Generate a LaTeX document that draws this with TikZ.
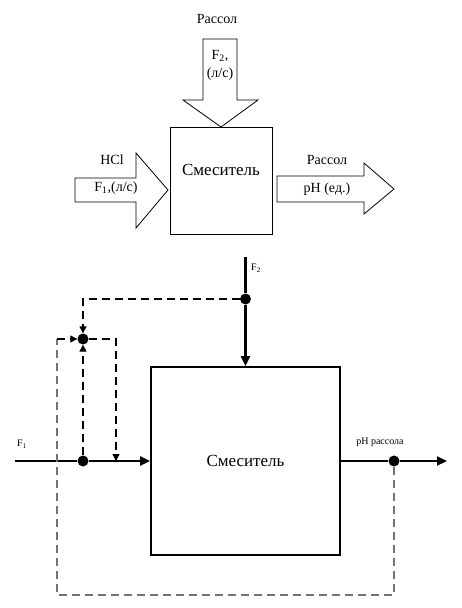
\documentclass[tikz,border=0pt]{standalone}
\usepackage{fontspec}
\setmainfont{Liberation Serif}
\usetikzlibrary{arrows.meta}
\begin{document}
\begin{tikzpicture}[x=1pt,y=-1pt,
  blockarrow/.style={draw=black,line width=0.8pt,fill=white,line join=miter},
  mixbox/.style={draw=black,line width=0.8pt,minimum width=102pt,minimum height=107pt,inner sep=0pt},
  bigbox/.style={draw=black,line width=1.8pt,minimum width=189pt,minimum height=188pt,inner sep=0pt},
  flow/.style={line width=2.2pt,-{Triangle[length=10pt,width=9pt]}},
  flowplain/.style={line width=2.2pt},
  sig/.style={dashed,dash pattern=on 8pt off 5pt,line width=1.3pt},
  sigg/.style={sig,draw=black!55},
  sa/.style={-{Triangle[length=7pt,width=7pt]}},
  dot/.style={circle,fill=black,inner sep=0pt,minimum size=11pt},
  lbl/.style={font=\fontsize{14}{16}\selectfont,inner sep=0pt},
  slbl/.style={font=\fontsize{10}{12}\selectfont,inner sep=0pt}]
\useasboundingbox (0,0) rectangle (461,608);
% ---------- top diagram ----------
\node[mixbox] (mix) at (221,180.5) {};
\node[font=\fontsize{17}{19}\selectfont] (mixt) at (221,170) {Смеситель};
\draw[blockarrow] (203,39) -- (237,39) -- (237,100) -- (258,100) -- (221,127) -- (183,100) -- (203,100) -- cycle;
\draw[blockarrow] (75,178) -- (136,178) -- (136,153) -- (168,190) -- (136,228) -- (136,202) -- (75,202) -- cycle;
\draw[blockarrow] (277,176) -- (364,176) -- (364,163) -- (394,189) -- (364,214) -- (364,202) -- (277,202) -- cycle;
\node[lbl] (t1) at (217,19) {Рассол};
\node[lbl] (t2) at (220,56) {F\textsubscript{2},};
\node[lbl] (t3) at (220,74) {(л/с)};
\node[lbl] (t4) at (112,160) {HCl};
\node[lbl] (t5) at (116,188) {F\textsubscript{1},(л/с)};
\node[lbl] (t6) at (327,160) {Рассол};
\node[lbl] (t7) at (327,189) {pH (ед.)};
% ---------- lower diagram ----------
\node[bigbox] (box) at (245.5,461) {};
\node[font=\fontsize{17}{19}\selectfont] (boxt) at (245.5,461) {Смеситель};
\coordinate (f2top) at (245.5,257);
\node[dot] (d2) at (245.5,299) {};
\coordinate (in) at (15,461);
\node[dot] (d1) at (83,461) {};
\node[dot] (dc) at (83,339) {};
\node[dot] (dp) at (394,461) {};
\coordinate (out) at (447,461);
\coordinate (c1) at (83,299);
\coordinate (c2) at (116,339);
\coordinate (c3) at (116,461);
\coordinate (c4) at (394,595);
\coordinate (c5) at (57,595);
\coordinate (c6) at (57,339);
\draw[flowplain] (f2top) -- (d2);
\draw[flow] (d2) -- (box.north);
\draw[flowplain] (in) -- (d1);
\draw[flow] (d1) -- (box.west);
\draw[flowplain] (box.east) -- (dp);
\draw[flow] (dp) -- (out);
\draw[sig,sa] (d2) -- (c1) -- (dc.north);
\draw[sig,sa] (d1) -- (dc.south);
\draw[sig,sa] (dc) -- (c2) -- (c3);
\draw[sigg] (dp) -- (c4) -- (c5) -- (c6);
\draw[sig,sa] (c6) -- (dc.west);
\node[slbl] (lf2) at (256,268) {F\textsubscript{2}};
\node[slbl] (lf1) at (22,444) {F\textsubscript{1}};
\node[slbl] (lph) at (380,442) {pH рассола};
\end{tikzpicture}
\end{document}
